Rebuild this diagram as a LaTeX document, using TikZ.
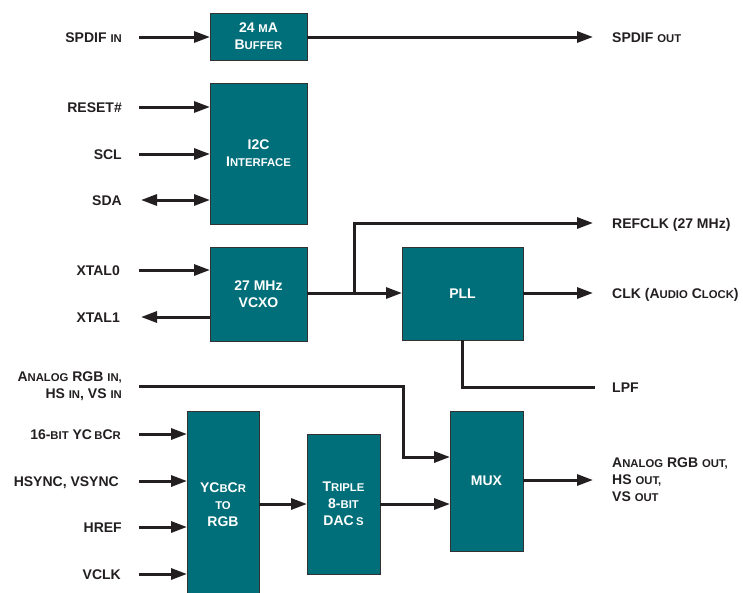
\documentclass[tikz,border=0pt]{standalone}
\usepackage{fontspec}
\setmainfont{Liberation Sans}
\usetikzlibrary{arrows.meta}
\definecolor{boxfill}{RGB}{0,111,122}
\definecolor{ink}{RGB}{35,31,32}
\definecolor{edge}{RGB}{50,50,50}
\newcommand{\smc}[1]{{\fontsize{11.3}{17}\selectfont #1}}
\begin{document}
\begin{tikzpicture}[x=1pt,y=-1pt,
  blk/.style={draw=edge, line width=1pt, fill=boxfill, inner sep=0pt, outer sep=0pt,
    text=white, font=\fontsize{14}{17}\selectfont\bfseries, align=center},
  lbl/.style={inner sep=0pt, text=ink, font=\fontsize{14}{17}\selectfont\bfseries,
    text height=10pt, text depth=0pt},
  mlbl/.style={inner sep=0pt, text=ink, font=\fontsize{14}{17}\selectfont\bfseries},
  ln/.style={draw=ink, line width=3pt},
  arr/.style={ln, -{Triangle[length=16pt,width=11pt]}},
  darr/.style={ln, {Triangle[length=16pt,width=11pt]}-{Triangle[length=16pt,width=11pt]}}]
\useasboundingbox (0,0) rectangle (743,592);

% blocks
\node[blk, minimum width=97pt, minimum height=47pt] (buf) at (258.5,36.5) {24 \smc{M}A\\B\smc{UFFER}};
\node[blk, minimum width=97pt, minimum height=141pt] (i2c) at (258.5,153.5) {I2C\\I\smc{NTERFACE}};
\node[blk, minimum width=97pt, minimum height=94pt] (vcxo) at (258.5,294) {27 MHz\\VCXO};
\node[blk, minimum width=121pt, minimum height=93pt] (pll) at (462.5,293.5) {PLL};
\node[blk, minimum width=72pt, minimum height=188pt] (ycc) at (223,505) {YC\smc{B}C\smc{R}\\\smc{TO}\\RGB};
\node[blk, minimum width=73pt, minimum height=140pt] (dac) at (343.5,504) {T\smc{RIPLE}\\8-\smc{BIT}\\DAC\,\smc{S}};
\node[blk, minimum width=73pt, minimum height=140pt] (mux) at (486.5,481) {MUX};

% free-end columns
\coordinate (lx) at (139,0);
\coordinate (lxb) at (141,0);
\coordinate (rx) at (593,0);
\coordinate (br) at (354,0);
\coordinate (turn) at (403,457);

% left labels
\node[lbl, anchor=east] (spdifin) at (122,37) {SPDIF \smc{IN}};
\node[lbl, anchor=east] (reset) at (122,107) {RESET\#};
\node[lbl, anchor=east] (scl) at (122,154) {SCL};
\node[lbl, anchor=east] (sda) at (122,200) {SDA};
\node[lbl, anchor=east] (xtal0) at (120,270) {XTAL0};
\node[lbl, anchor=east] (xtal1) at (120,317) {XTAL1};
\node[mlbl, anchor=east, align=right] (argbin) at (122,386) {A\smc{NALOG} RGB \smc{IN,}\\HS \smc{IN}, VS \smc{IN}};
\node[lbl, anchor=east] (ycbcr) at (121,434) {16-\smc{BIT} YC\,\smc{B}C\smc{R}};
\node[lbl, anchor=east] (hsync) at (119,481) {HSYNC, VSYNC};
\node[lbl, anchor=east] (href) at (122,527) {HREF};
\node[lbl, anchor=east] (vclk) at (121,574) {VCLK};

% right labels
\node[lbl, anchor=west] (spdifout) at (612,37) {SPDIF \smc{OUT}};
\node[lbl, anchor=west] (refclk) at (612,223) {REFCLK (27 MHz)};
\node[lbl, anchor=west] (clk) at (612,293) {CLK (A\smc{UDIO} C\smc{LOCK})};
\node[lbl, anchor=west] (lpf) at (612,387) {LPF};
\node[mlbl, anchor=west, align=left] (aout) at (612,480) {A\smc{NALOG} RGB \smc{OUT,}\\HS \smc{OUT,}\\VS \smc{OUT}};

% connectors
\draw[arr] (lx |- spdifin) -- (buf.west |- spdifin);
\draw[arr] (buf.east |- spdifout) -- (rx |- spdifout);
\draw[arr] (lx |- reset) -- (i2c.west |- reset);
\draw[arr] (lx |- scl) -- (i2c.west |- scl);
\draw[darr] (lxb |- sda) -- (i2c.west |- sda);
\draw[arr] (lx |- xtal0) -- (vcxo.west |- xtal0);
\draw[arr] (vcxo.west |- xtal1) -- (lxb |- xtal1);
\draw[arr] (vcxo.east |- clk) -- (pll.west |- clk);
\draw[arr] (br |- clk) -- (br |- refclk) -- (rx |- refclk);
\draw[arr] (pll.east |- clk) -- (rx |- clk);
\draw[ln] (pll.south) |- ([xshift=-17pt]lpf.west);
\draw[arr] (lx |- argbin) -- (turn |- argbin) -- (turn) -- (mux.west |- turn);
\draw[arr] (lx |- ycbcr) -- (ycc.west |- ycbcr);
\draw[arr] (lx |- hsync) -- (ycc.west |- hsync);
\draw[arr] (lx |- href) -- (ycc.west |- href);
\draw[arr] (lx |- vclk) -- (ycc.west |- vclk);
\draw[arr] (ycc.east |- dac.west) -- (dac.west);
\draw[arr] (dac.east) -- (mux.west |- dac.east);
\draw[arr] (mux.east |- aout) -- (rx |- aout);
\end{tikzpicture}
\end{document}
